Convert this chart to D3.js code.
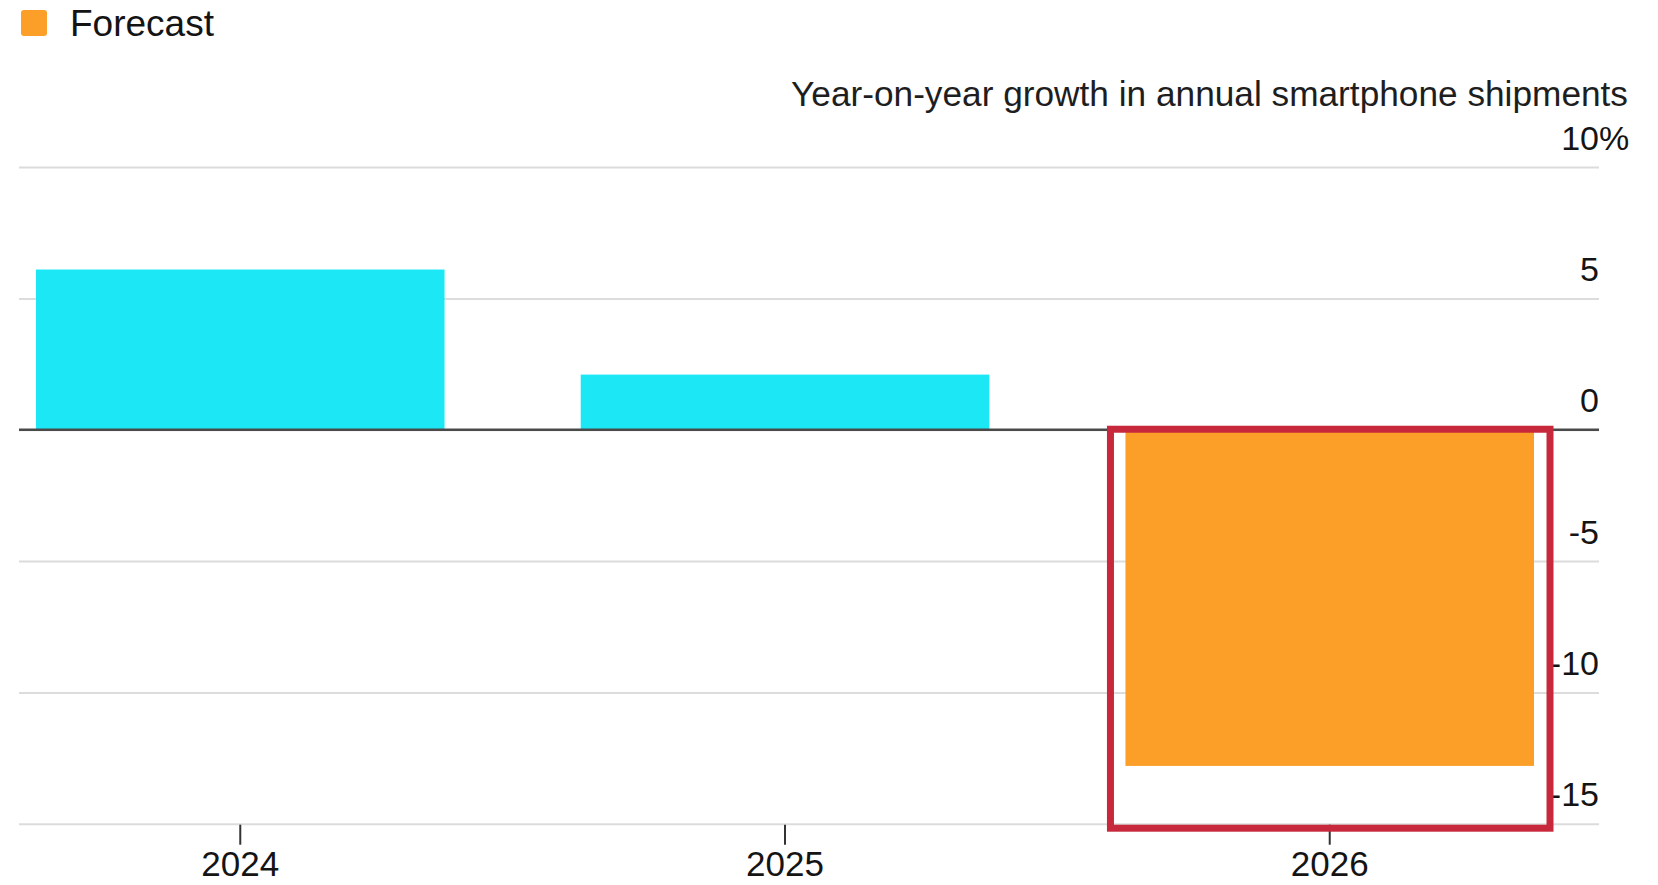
<!DOCTYPE html>
<html>
<head>
<meta charset="utf-8">
<script src="https://cdn.jsdelivr.net/npm/d3@7"></script>
<style>
  html, body { margin: 0; padding: 0; background: #fff; }
  svg { display: block; font-family: "Liberation Sans", Arial, Helvetica, sans-serif; }
</style>
</head>
<body>
<svg id="chart" width="1658" height="885"></svg>
<script>
// ---- data ----
const years = ["2024", "2025", "2026"];
const growth = [6.1, 2.1, -12.8];
const isForecast = [false, false, true];
const yTicks = [10, 5, 0, -5, -10, -15];
const titleText = "Year-on-year growth in annual smartphone shipments";
const legendLabel = "Forecast";

// ---- styles ----
const colActual = "#1be7f5";
const colForecast = "#fb9f28";
const colHighlight = "#c7283b";
const colText = "#141414";

const svg = d3.select("#chart");

const gridLeft = 19, gridRight = 1599;
const y = d3.scaleLinear().domain([-15, 10]).range([823.7, 167.1]);
const x = d3.scaleBand().domain(years).range([36, 1534]).paddingInner(0.25).paddingOuter(0);

// gridlines + y labels via axis
const yAxis = d3.axisRight(y)
  .tickValues(yTicks)
  .tickSize(-(gridRight - gridLeft))
  .tickFormat(d => d);
const gy = svg.append("g")
  .attr("transform", `translate(${gridRight},0)`)
  .call(yAxis);
gy.select(".domain").remove();
gy.selectAll(".tick line")
  .attr("stroke", "#dcdcdc")
  .attr("stroke-width", 2);
gy.selectAll(".tick text")
  .attr("x", 0)
  .attr("dy", -18)
  .attr("text-anchor", "end")
  .attr("fill", colText)
  .style("font-size", "34px")
  .attr("font-family", null);
gy.selectAll(".tick").filter(d => d === 10)
  .append("text")
  .attr("x", 0)
  .attr("dy", -18)
  .attr("text-anchor", "start")
  .attr("fill", colText)
  .style("font-size", "34px")
  .text("%");
gy.selectAll(".tick text").attr("y", 0);

// bars
svg.append("g").selectAll("rect")
  .data(years)
  .join("rect")
  .attr("x", d => x(d))
  .attr("width", x.bandwidth())
  .attr("y", (d, i) => y(Math.max(0, growth[i])))
  .attr("height", (d, i) => Math.abs(y(growth[i]) - y(0)))
  .attr("fill", (d, i) => isForecast[i] ? colForecast : colActual);

// zero line
svg.append("line")
  .attr("x1", gridLeft).attr("x2", gridRight)
  .attr("y1", y(0)).attr("y2", y(0))
  .attr("stroke", "#4a4a4a").attr("stroke-width", 2.5);

// x axis
const xAxis = d3.axisBottom(x).tickSize(20).tickSizeOuter(0);
const gx = svg.append("g")
  .attr("transform", `translate(0,${y(-15) + 1})`)
  .call(xAxis);
gx.select(".domain").remove();
gx.selectAll(".tick line").attr("stroke", "#333").attr("stroke-width", 2);
gx.selectAll(".tick text")
  .attr("y", 51)
  .attr("dy", 0)
  .attr("fill", colText)
  .attr("font-family", null)
  .style("font-size", "35px");

// highlight box around forecast bar
const fYear = years[isForecast.indexOf(true)];
svg.append("rect")
  .attr("x", x(fYear) - 15)
  .attr("width", x.bandwidth() + 31)
  .attr("y", y(0) - 0.5)
  .attr("height", y(-15) - y(0) + 5)
  .attr("fill", "none")
  .attr("stroke", colHighlight)
  .attr("stroke-width", 7);

// title (right aligned)
const title = svg.append("text")
  .attr("x", 1628).attr("y", 106)
  .attr("text-anchor", "end")
  .attr("fill", "#1e1e1e")
  .style("font-size", "34px")
  .text(titleText);
const tw = title.node().getComputedTextLength();
title.style("font-size", (34 * 837 / tw).toFixed(2) + "px");

// legend
svg.append("rect")
  .attr("x", 21).attr("y", 10)
  .attr("width", 26).attr("height", 26)
  .attr("rx", 3)
  .attr("fill", colForecast);
svg.append("text")
  .attr("x", 70).attr("y", 36)
  .attr("fill", colText)
  .style("font-size", "37px")
  .text(legendLabel);
</script>
</body>
</html>
